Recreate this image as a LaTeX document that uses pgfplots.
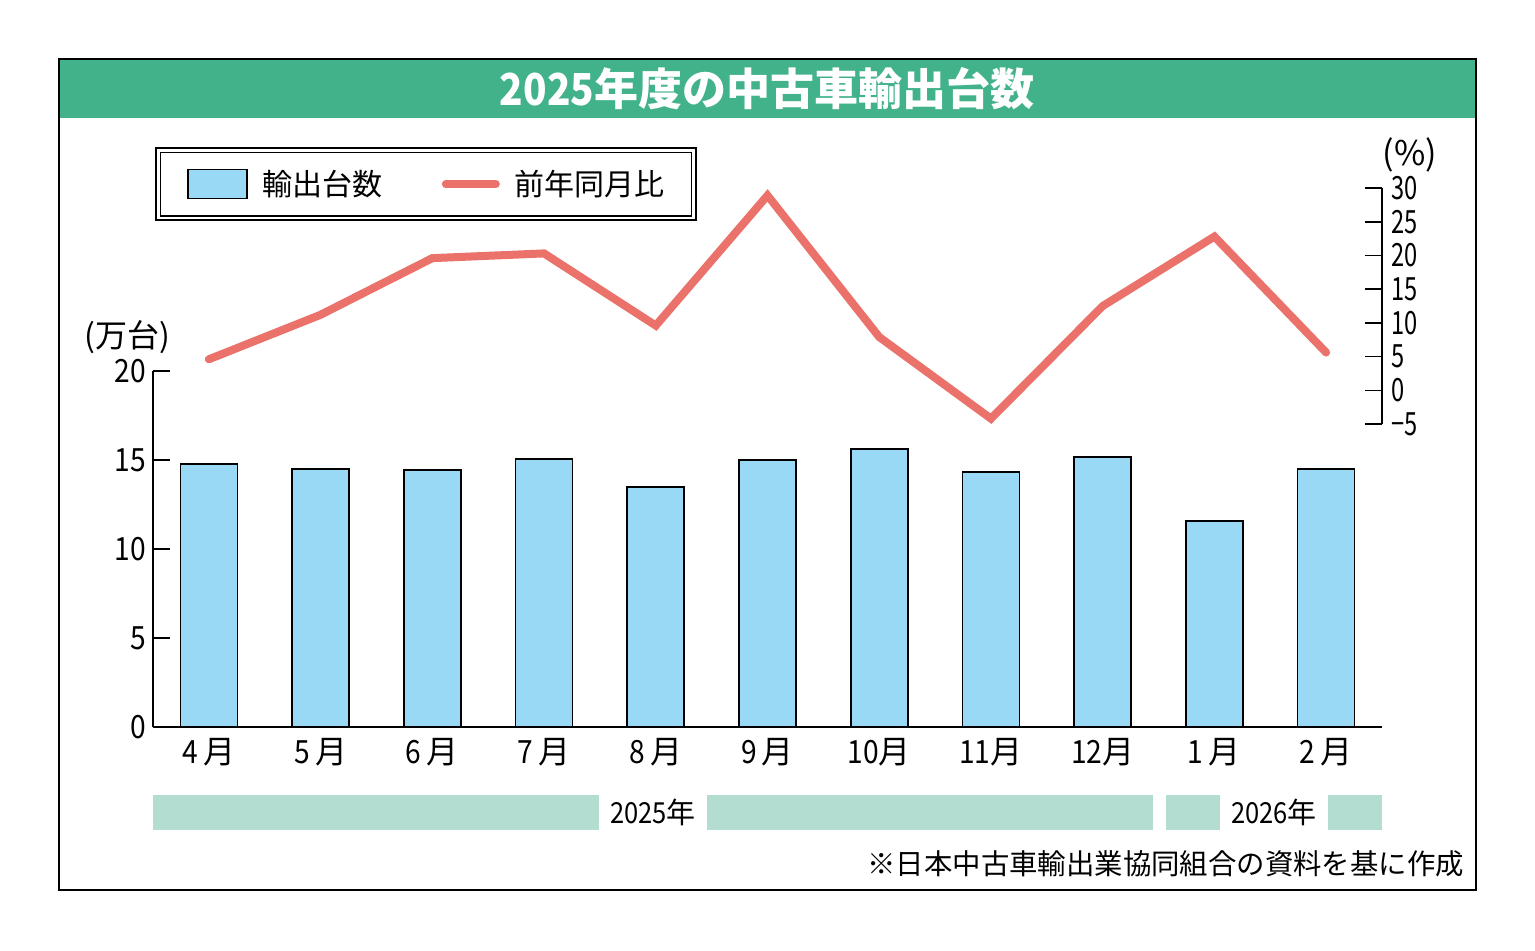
\documentclass[border=0pt]{standalone}
\usepackage{fontspec}
\setmainfont{Noto Sans CJK JP}
\newfontfamily\numfont[FakeStretch=0.88]{Noto Sans CJK JP}
\newfontfamily\numfontn[FakeStretch=0.74]{Noto Sans CJK JP}
\usepackage{pgfplots}
\pgfplotsset{compat=1.18}
\definecolor{bandgreen}{RGB}{65,178,138}
\definecolor{yeargreen}{RGB}{178,221,208}
\definecolor{barblue}{RGB}{153,217,245}
\definecolor{linered}{RGB}{234,114,106}
\begin{document}
\begin{tikzpicture}
\begin{scope}[x=0.5pt,y=-0.5pt]
\fill[white] (0,0) rectangle (1535,950);
\useasboundingbox (0,0) rectangle (1535,950);
\fill[bandgreen] (59,59) rectangle (1476,118);
\draw[line width=1pt] (59,59) rectangle (1476,890);
\node[white,font=\fontsize{22}{22}\selectfont\bfseries] at (767,89) {{\numfont 2025}年度の中古車輸出台数};
% year bands
\fill[yeargreen] (153,795) rectangle (599,830);
\fill[yeargreen] (707,795) rectangle (1153,830);
\fill[yeargreen] (1166,795) rectangle (1220,830);
\fill[yeargreen] (1328,795) rectangle (1382,830);
\node[font=\fontsize{14.5}{14.5}\selectfont] at (653,812) {{\numfont 2025}年};
\node[font=\fontsize{14.5}{14.5}\selectfont] at (1274,812) {{\numfont 2026}年};
\node[font=\fontsize{14.2}{14.2}\selectfont, anchor=east] at (1471,864) {※日本中古車輸出業協同組合の資料を基に作成};
\node[font=\fontsize{16}{16}\selectfont] at (127,337) {(万台)};
\node[font=\fontsize{17}{17}\selectfont] at (1410,155) {(\%)};
\end{scope}

\begin{axis}[
  at={(76.5pt,-363.5pt)}, anchor=south west,
  scale only axis, width=614.5pt, height=178pt,
  xmin=-0.5, xmax=10.5, ymin=0, ymax=20,
  axis x line=bottom, axis y line=left,
  axis line style={-, line width=0.9pt},
  xtick={0,...,10},
  xticklabels={{\numfont 4}\,月,{\numfont 5}\,月,{\numfont 6}\,月,{\numfont 7}\,月,{\numfont 8}\,月,{\numfont 9}\,月,{\numfont 10}月,{\numfont 11}月,{\numfont 12}月,{\numfont 1}\,月,{\numfont 2}\,月},
  xtick style={draw=none},
  x tick label style={font=\fontsize{16}{16}\selectfont, yshift=-2pt},
  ytick={0,5,10,15,20},
  yticklabels={0,5,10,15,20},
  y tick label style={font=\numfont\fontsize{16}{16}\selectfont},
  tick align=inside, major tick length=8.5pt,
  ytick style={line width=0.8pt, black},
  legend columns=2,
  legend cell align=left,
  legend style={at={(0.0037,1.6222)}, anchor=north west,
    draw=black, double, double distance=1.4pt, line width=0.7pt,
    inner xsep=14.5pt, inner ysep=9.3pt,
    font=\fontsize{15}{15}\selectfont,
    nodes={inner sep=0pt},
    /tikz/every odd column/.append style={column sep=7.5pt},
    /tikz/every even column/.append style={column sep=29.5pt}},
]
\addplot[ybar, bar width=28.5pt, fill=barblue, draw=black, line width=0.8pt,
  legend image code/.code={\draw[fill=barblue,draw=black,line width=0.8pt] (0pt,-7.25pt) rectangle (29.5pt,7.25pt);}]
  coordinates {(0,14.78) (1,14.49) (2,14.44) (3,15.06) (4,13.48) (5,15.00) (6,15.62) (7,14.33) (8,15.17) (9,11.57) (10,14.49)};
\addlegendentry{輸出台数}
\addlegendimage{legend image code/.code={\draw[linered,line width=4pt,line cap=round] (0pt,0pt) -- (25pt,0pt);}}
\addlegendentry{前年同月比}
\end{axis}

\begin{axis}[
  at={(76.5pt,-212pt)}, anchor=south west,
  scale only axis, width=614.5pt, height=118pt,
  xmin=-0.5, xmax=10.5, ymin=-5, ymax=30,
  axis x line=none, axis y line=right,
  axis line style={-, line width=0.9pt},
  ytick={-5,0,5,10,15,20,25,30},
  yticklabels={−5,0,5,10,15,20,25,30},
  y tick label style={font=\numfontn\fontsize{16}{16}\selectfont, xshift=1pt},
  tick align=inside, major tick length=8.5pt,
  ytick style={line width=0.8pt, black},
  clip=false,
]
\addplot[linered, line width=4pt, line cap=round, line join=miter]
  coordinates {(0,4.6) (1,11.2) (2,19.6) (3,20.3) (4,9.6) (5,28.9) (6,7.9) (7,-4.2) (8,12.5) (9,22.8) (10,5.6)};
\end{axis}
\end{tikzpicture}
\end{document}
